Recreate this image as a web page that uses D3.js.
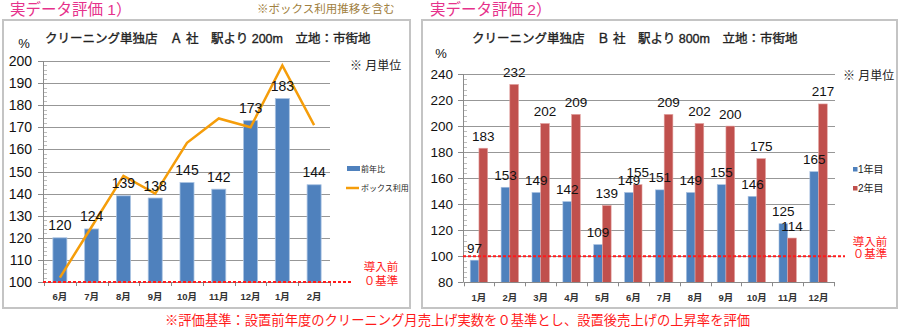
<!DOCTYPE html>
<html>
<head>
<meta charset="utf-8">
<script src="https://cdn.jsdelivr.net/npm/d3@7"></script>
<style>
  body { margin: 0; background: #fff; }
  svg { display: block; }
  text { font-family: "Liberation Sans", "Noto Sans CJK JP", sans-serif; }
</style>
</head>
<body>
<svg id="chart" width="900" height="327"></svg>
<script>
// ---- Store A: year-over-year ratio and box usage ----
const monthsA = ["6月", "7月", "8月", "9月", "10月", "11月", "12月", "1月", "2月"];
const prevYearA = [120, 124, 139, 138, 145, 142, 173, 183, 144];
const boxUseA = [102, 125, 148, 140, 163, 174, 170, 198, 171];
const ticksA = [100, 110, 120, 130, 140, 150, 160, 170, 180, 190, 200];

// ---- Store B: first and second year ----
const monthsB = ["1月", "2月", "3月", "4月", "5月", "6月", "7月", "8月", "9月", "10月", "11月", "12月"];
const year1B = [97, 153, 149, 142, 109, 149, 151, 149, 155, 146, 125, 165];
const year2B = [183, 232, 202, 209, 139, 155, 209, 202, 200, 175, 114, 217];
const ticksB = [80, 100, 120, 140, 160, 180, 200, 220, 240];
const seriesB = ["1年目", "2年目"];

const BLUE = "#4f81bd", RED = "#c0504d", ORANGE = "#f59d0a";
const PINK = "#e6318b", ALERT = "#ff1a1a";

const svg = d3.select("#chart");
svg.append("rect").attr("width", 900).attr("height", 327).attr("fill", "#fff");

// Headings above the panels
svg.append("text").attr("x", 10).attr("y", 15).attr("font-size", 15.5).attr("fill", PINK)
  .text("実データ評価 1）");
svg.append("text").attr("x", 257).attr("y", 13).attr("font-size", 11.5).attr("fill", "#a08040")
  .text("※ボックス利用推移を含む");
svg.append("text").attr("x", 430).attr("y", 15).attr("font-size", 15.5).attr("fill", PINK)
  .text("実データ評価 2）");

// Panel frames
[[3, 20, 407, 288], [422, 20, 475, 288]].forEach(([x, y, w, h]) => {
  svg.append("rect").attr("x", x).attr("y", y).attr("width", w).attr("height", h)
    .attr("fill", "none").attr("stroke", "#c4c4c4").attr("stroke-width", 2);
});

// Footnote
svg.append("text").attr("x", 165).attr("y", 325).attr("font-size", 13.3).attr("fill", ALERT)
  .text("※評価基準：設置前年度のクリーニング月売上げ実数を０基準とし、設置後売上げの上昇率を評価");

// Shared y-axis drawing: gridlines, major ticks, minor ruler ticks and labels
function drawYAxis(g, y, ticks, minorStep, x0, x1, labelX, fontSize) {
  const [lo, hi] = y.domain();
  g.selectAll(".grid").data(ticks.slice(1)).join("line")
    .attr("x1", x0).attr("x2", x1)
    .attr("y1", d => Math.round(y(d)) + 0.5).attr("y2", d => Math.round(y(d)) + 0.5)
    .attr("stroke", "#979797").attr("stroke-width", 1);
  const minors = d3.range(lo, hi + 0.001, minorStep).filter(v => ticks.indexOf(v) < 0);
  g.selectAll(".minor").data(minors).join("line")
    .attr("x1", x0).attr("x2", x0 + 4)
    .attr("y1", d => Math.round(y(d)) + 0.5).attr("y2", d => Math.round(y(d)) + 0.5)
    .attr("stroke", "#bdbdbd").attr("stroke-width", 1);
  g.selectAll(".major").data(ticks).join("line")
    .attr("x1", x0 - 5).attr("x2", x0)
    .attr("y1", d => Math.round(y(d)) + 0.5).attr("y2", d => Math.round(y(d)) + 0.5)
    .attr("stroke", "#8a8a8a").attr("stroke-width", 1);
  g.append("line").attr("x1", x0 + 0.5).attr("x2", x0 + 0.5)
    .attr("y1", y(hi)).attr("y2", y(lo)).attr("stroke", "#8a8a8a");
  g.selectAll(".tl").data(ticks).join("text")
    .attr("x", labelX).attr("y", d => y(d)).attr("dy", "0.36em")
    .attr("text-anchor", "end").attr("font-size", fontSize).attr("fill", "#111")
    .text(d => d);
}

function drawXAxis(g, x, yBase, x1, labelY) {
  g.append("line").attr("x1", x.range()[0]).attr("x2", x1)
    .attr("y1", Math.round(yBase) + 0.5).attr("y2", Math.round(yBase) + 0.5)
    .attr("stroke", "#8a8a8a");
  const edges = x.domain().map(d => x(d)).concat([x.range()[1]]);
  g.selectAll(".xt").data(edges).join("line")
    .attr("x1", d => Math.round(d) + 0.5).attr("x2", d => Math.round(d) + 0.5)
    .attr("y1", yBase).attr("y2", yBase + 4).attr("stroke", "#8a8a8a");
  g.selectAll(".xl").data(x.domain()).join("text")
    .attr("x", d => x(d) + x.bandwidth() / 2).attr("y", labelY)
    .attr("text-anchor", "middle").attr("font-size", 9.5).attr("font-weight", "bold")
    .attr("fill", "#333").text(d => d);
}

// Panel caption in a medium weight
function caption(g, x, y, str) {
  g.append("text").attr("x", x).attr("y", y).attr("font-size", 12.5)
    .attr("fill", "#222").attr("stroke", "#222").attr("stroke-width", 0.35)
    .text(str);
}

// ================= Left chart =================
{
  const g = svg.append("g");
  const x = d3.scaleBand().domain(monthsA).range([44, 330]);
  const y = d3.scaleLinear().domain([100, 200]).range([282, 61]);

  caption(g, 45, 42.5, "クリーニング単独店　Ａ 社　駅より 200m　立地：市街地");
  g.append("text").attr("x", 24).attr("y", 48).attr("text-anchor", "middle")
    .attr("font-size", 13).attr("fill", "#111").text("%");
  g.append("text").attr("x", 350).attr("y", 70).attr("font-size", 12).attr("fill", "#222")
    .text("※ 月単位");

  drawYAxis(g, y, ticksA, 2, 43, 330, 32, 14);

  const barW = 14;
  g.selectAll(".bar").data(prevYearA).join("rect")
    .attr("x", (d, i) => x(monthsA[i]) + (x.bandwidth() - barW) / 2)
    .attr("y", d => y(d)).attr("width", barW).attr("height", d => y(100) - y(d))
    .attr("fill", BLUE).attr("stroke", "#a9c2e2").attr("stroke-width", 0.8);

  drawXAxis(g, x, y(100), 330, 300);

  // Baseline before installation
  g.append("line").attr("x1", 43).attr("x2", 353).attr("y1", y(100)).attr("y2", y(100))
    .attr("stroke", ALERT).attr("stroke-width", 2).attr("stroke-dasharray", "3,2");

  const line = d3.line()
    .x((d, i) => x(monthsA[i]) + x.bandwidth() / 2)
    .y(d => y(d));
  g.append("path").datum(boxUseA).attr("d", line)
    .attr("fill", "none").attr("stroke", ORANGE).attr("stroke-width", 2.5)
    .attr("stroke-linejoin", "miter");

  g.selectAll(".val").data(prevYearA).join("text")
    .attr("x", (d, i) => x(monthsA[i]) + x.bandwidth() / 2)
    .attr("y", d => y(d) - 7.5).attr("text-anchor", "middle")
    .attr("font-size", 14).attr("fill", "#111").text(d => d);

  // Legend
  g.append("rect").attr("x", 347).attr("y", 166).attr("width", 13).attr("height", 5).attr("fill", BLUE);
  g.append("text").attr("x", 361).attr("y", 172).attr("font-size", 8).attr("fill", "#222").text("前年比");
  g.append("line").attr("x1", 346).attr("x2", 359).attr("y1", 188).attr("y2", 188)
    .attr("stroke", ORANGE).attr("stroke-width", 2.5);
  g.append("text").attr("x", 361).attr("y", 191).attr("font-size", 8).attr("fill", "#222").text("ボックス利用");

  g.append("text").attr("x", 381).attr("y", 271).attr("text-anchor", "middle")
    .attr("font-size", 11.5).attr("fill", ALERT).text("導入前");
  g.append("text").attr("x", 381).attr("y", 285).attr("text-anchor", "middle")
    .attr("font-size", 11.5).attr("fill", ALERT).text("０基準");
}

// ================= Right chart =================
{
  const g = svg.append("g");
  const x = d3.scaleBand().domain(monthsB).range([463.5, 834]);
  const xs = d3.scaleBand().domain(seriesB).range([(x.bandwidth() - 17.4) / 2, (x.bandwidth() + 17.4) / 2]);
  const y = d3.scaleLinear().domain([80, 240]).range([282.3, 74]);

  caption(g, 472, 42.5, "クリーニング単独店　Ｂ 社　駅より 800m　立地：市街地");
  g.append("text").attr("x", 441).attr("y", 58).attr("text-anchor", "middle")
    .attr("font-size", 13).attr("fill", "#111").text("%");
  g.append("text").attr("x", 843).attr("y", 80).attr("font-size", 12).attr("fill", "#222")
    .text("※ 月単位");

  drawYAxis(g, y, ticksB, 4, 463, 835, 453, 13.5);

  const series = [
    { key: seriesB[0], values: year1B, color: BLUE, edge: "#a9c2e2" },
    { key: seriesB[1], values: year2B, color: RED, edge: "#e3a3a1" }
  ];
  series.forEach(s => {
    g.selectAll(".b" + s.key).data(s.values).join("rect")
      .attr("x", (d, i) => x(monthsB[i]) + xs(s.key))
      .attr("y", d => y(d)).attr("width", xs.bandwidth()).attr("height", d => y(80) - y(d))
      .attr("fill", s.color).attr("stroke", s.edge).attr("stroke-width", 0.6);
  });

  drawXAxis(g, x, y(80), 835, 301);

  g.append("line").attr("x1", 463).attr("x2", 845).attr("y1", y(100)).attr("y2", y(100))
    .attr("stroke", ALERT).attr("stroke-width", 2).attr("stroke-dasharray", "3,2");

  series.forEach(s => {
    g.selectAll(".v" + s.key).data(s.values).join("text")
      .attr("x", (d, i) => x(monthsB[i]) + xs(s.key) + xs.bandwidth() / 2)
      .attr("y", d => y(d) - 7.5).attr("text-anchor", "middle")
      .attr("font-size", 13.5).attr("fill", "#111").text(d => d);
  });

  // Legend
  series.forEach((s, i) => {
    g.append("rect").attr("x", 853).attr("y", 167 + i * 19).attr("width", 4.5).attr("height", 4.5).attr("fill", s.color);
    g.append("text").attr("x", 858).attr("y", 173 + i * 19).attr("font-size", 10).attr("fill", "#222").text(s.key);
  });

  g.append("text").attr("x", 870).attr("y", 246).attr("text-anchor", "middle")
    .attr("font-size", 11.5).attr("fill", ALERT).text("導入前");
  g.append("text").attr("x", 870).attr("y", 258).attr("text-anchor", "middle")
    .attr("font-size", 11.5).attr("fill", ALERT).text("０基準");
}
</script>
</body>
</html>
